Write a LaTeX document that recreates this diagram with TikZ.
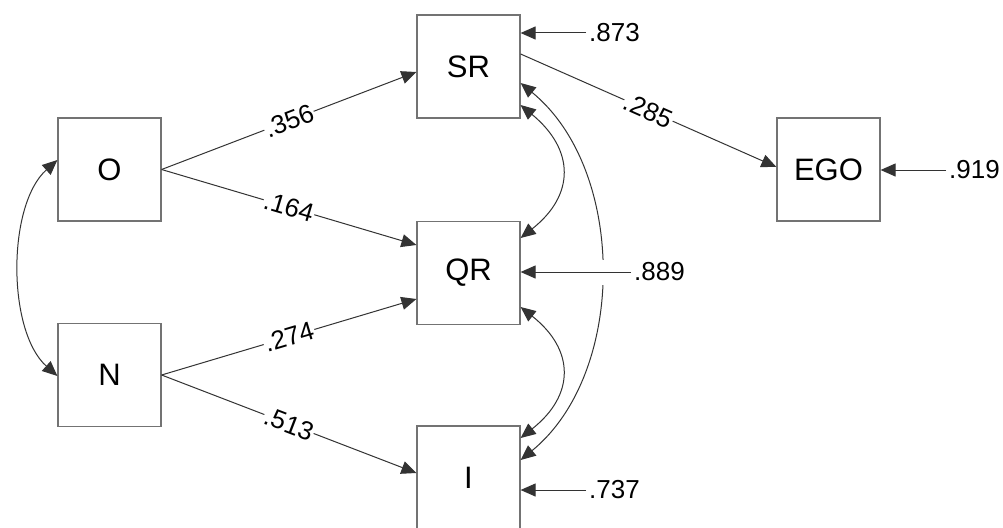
\documentclass[tikz,border=0pt]{standalone}
\usepackage{fontspec}
\setmainfont{Liberation Sans}
\usetikzlibrary{arrows.meta}
\begin{document}
\begin{tikzpicture}[x=1pt,y=-1pt,
  var/.style={draw=black!55, line width=1.2pt, minimum width=103pt, minimum height=103pt, inner sep=0pt, font=\fontsize{31}{36}\selectfont},
  path/.style={draw=black!80, line width=1pt, -{Triangle[length=15pt,width=13pt]}},
  dpath/.style={draw=black!80, line width=1pt, {Triangle[length=15pt,width=13pt]}-{Triangle[length=15pt,width=13pt]}},
  coef/.style={font=\fontsize{26}{30}\selectfont, sloped, fill=white, inner sep=1pt, pos=0.5},
  err/.style={font=\fontsize{26}{30}\selectfont, inner sep=3pt, anchor=west}]
\useasboundingbox (0,0) rectangle (1003,527);
\fill[white] (0,0) rectangle (1003,527);
% variables
\node[var] (O) at (109.5,169.5) {O};
\node[var] (N) at (109.5,375) {N};
\node[var] (SR) at (468.5,66.5) {SR};
\node[var] (QR) at (468.5,273) {QR};
\node[var] (I) at (468.5,477.5) {I};
\node[var] (EGO) at (828.5,169.5) {EGO};
% error labels
\node[err] (e1) at (586,33) {.873};
\node[err] (e2) at (631,272) {.889};
\node[err] (e3) at (586,490) {.737};
\node[err] (e4) at (946,170) {.919};
% paths
\draw[path] (O.east) -- node[coef] {.356} ([yshift=-5.5pt]SR.west);
\draw[path] (O.east) -- node[coef] {.164} ([yshift=28pt]QR.west);
\draw[path] (N.east) -- node[coef] {.274} ([yshift=-26pt]QR.west);
\draw[path] (N.east) -- node[coef] {.513} ([yshift=4.5pt]I.west);
\draw[path] ([yshift=12.5pt]SR.east) -- node[coef] {.285} ([yshift=2.5pt]EGO.west);
% covariances
\draw[dpath] ([yshift=9.5pt]O.west) .. controls (7,205) and (7,331) .. ([yshift=-1pt]N.west);
\draw[dpath] ([yshift=-38.5pt]SR.east) .. controls (575,150) and (575,195) .. ([yshift=35pt]QR.east);
\draw[dpath] ([yshift=-34pt]QR.east) .. controls (575,350) and (575,395) .. ([yshift=39.5pt]I.east);
\draw[dpath] ([yshift=-16.5pt]SR.east) .. controls (627,170) and (627,373) .. ([yshift=17.5pt]I.east);
% gap in the outer arc
\draw[white, line width=25pt] (590,272.5) -- (606,272.5);
% error arrows
\draw[path] (e1.west) -- (SR.east |- e1.west);
\draw[path] (e2.west) -- (QR.east |- e2.west);
\draw[path] (e3.west) -- (I.east |- e3.west);
\draw[path] (e4.west) -- (EGO.east |- e4.west);
\end{tikzpicture}
\end{document}
